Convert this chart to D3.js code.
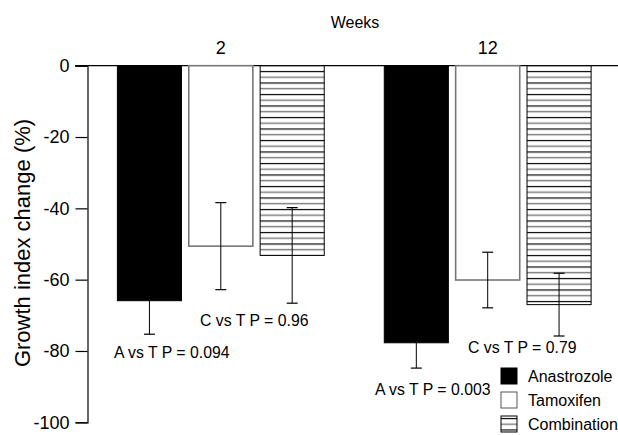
<!DOCTYPE html>
<html>
<head>
<meta charset="utf-8">
<script src="https://cdn.jsdelivr.net/npm/d3@7"></script>
<style>
  body { margin: 0; background: #fff; }
  text { font-family: "Liberation Sans", Arial, sans-serif; fill: #000; }
</style>
</head>
<body>
<div id="chart"></div>
<script>
var weeks = ["2", "12"];
var series = ["Anastrozole", "Tamoxifen", "Combination"];
var means = {
  "2":  [-65.9, -50.6, -53.2],
  "12": [-77.7, -60.1, -67.0]
};
var errors = {
  "2":  [9.4, 12.2, 13.4],
  "12": [7.1, 7.8, 8.8]
};
var pLabels = [
  { week: "2", text: "A vs T P = 0.094" },
  { week: "2", text: "C vs T P = 0.96" },
  { week: "12", text: "A vs T P = 0.003" },
  { week: "12", text: "C vs T P = 0.79" }
];
var yTicks = [0, -20, -40, -60, -80, -100];

var width = 618, height = 435;

var svg = d3.select("#chart").append("svg")
  .attr("width", width)
  .attr("height", height);

// hatch for combination bars
var pat = svg.append("defs").append("pattern")
  .attr("id", "hatch")
  .attr("patternUnits", "userSpaceOnUse")
  .attr("width", 10).attr("height", 11.5);
pat.append("rect").attr("width", 10).attr("height", 11.5).attr("fill", "#fff");
pat.append("line").attr("x1", 0).attr("x2", 10).attr("y1", 2.5).attr("y2", 2.5)
  .attr("stroke", "#000").attr("stroke-width", 1.2);
pat.append("line").attr("x1", 0).attr("x2", 10).attr("y1", 8.2).attr("y2", 8.2)
  .attr("stroke", "#777").attr("stroke-width", 1.4);

var y = d3.scaleLinear().domain([0, -100]).range([65.7, 422.3]);

var x0 = d3.scaleBand().domain(weeks)
  .range([87.5, 621]).paddingInner(0.225).paddingOuter(0.112);
var x1 = d3.scaleBand().domain(series)
  .range([0, x0.bandwidth()]).paddingInner(0.102).paddingOuter(0);

var fills = { "Anastrozole": "#000", "Tamoxifen": "#fff", "Combination": "url(#hatch)" };
var strokes = { "Anastrozole": "#000", "Tamoxifen": "#777", "Combination": "#000" };

// zero line across the top
svg.append("line")
  .attr("x1", 75).attr("x2", width)
  .attr("y1", y(0)).attr("y2", y(0))
  .attr("stroke", "#000").attr("stroke-width", 1.2);

var groups = svg.selectAll("g.week").data(weeks).enter().append("g")
  .attr("class", "week")
  .attr("transform", function (w) { return "translate(" + x0(w) + ",0)"; });

// error bars
groups.each(function (w) {
  var g = d3.select(this);
  series.forEach(function (s, i) {
    var cx = x1(s) + x1.bandwidth() / 2;
    var lo = means[w][i] - errors[w][i], hi = means[w][i] + errors[w][i];
    g.append("line").attr("x1", cx).attr("x2", cx)
      .attr("y1", y(hi)).attr("y2", y(lo))
      .attr("stroke", "#000").attr("stroke-width", 1);
    [lo, hi].forEach(function (v) {
      g.append("line").attr("x1", cx - 5.5).attr("x2", cx + 5.5)
        .attr("y1", y(v)).attr("y2", y(v))
        .attr("stroke", "#000").attr("stroke-width", 1.2);
    });
  });
});

// bars, put behind the error bars
groups.each(function (w) {
  var g = d3.select(this);
  series.forEach(function (s, i) {
    g.insert("rect", ":first-child")
      .attr("x", x1(s))
      .attr("y", y(0))
      .attr("width", x1.bandwidth())
      .attr("height", y(means[w][i]) - y(0))
      .attr("fill", fills[s])
      .attr("stroke", strokes[s])
      .attr("stroke-width", s === "Tamoxifen" ? 1.6 : 1);
  });
});

// week labels
svg.selectAll("text.wk").data(weeks).enter().append("text")
  .attr("class", "wk")
  .attr("x", function (w) { return x0(w) + x0.bandwidth() / 2; })
  .attr("y", 54)
  .attr("text-anchor", "middle")
  .style("font-size", "18px")
  .text(function (w) { return w; });

svg.append("text")
  .attr("x", 355).attr("y", 28)
  .attr("text-anchor", "middle")
  .style("font-size", "16px")
  .text("Weeks");

// y axis
var yAxis = d3.axisLeft(y).tickValues(yTicks).tickSize(12).tickPadding(6)
  .tickFormat(function (d) { return String(d); });
var ga = svg.append("g")
  .attr("transform", "translate(87.5,0)")
  .call(yAxis);
ga.select(".domain").attr("stroke", "#000").attr("stroke-width", 1.2);
ga.selectAll(".tick line").attr("stroke", "#000").attr("stroke-width", 1.2);
ga.selectAll(".tick text")
  .style("font-family", "'Liberation Sans', Arial, sans-serif")
  .style("font-size", "18px")
  .attr("fill", "#000");

svg.append("text")
  .attr("transform", "translate(30,243) rotate(-90)")
  .attr("text-anchor", "middle")
  .style("font-size", "22px")
  .text("Growth index change (%)");

// p-value annotations
var pPos = [
  { dx: 114, y: 358 },
  { dx: 200, y: 326 },
  { dx: 375, y: 395 },
  { dx: 468, y: 353 }
];
svg.selectAll("text.p").data(pLabels).enter().append("text")
  .attr("class", "p")
  .attr("x", function (d, i) { return pPos[i].dx; })
  .attr("y", function (d, i) { return pPos[i].y; })
  .style("font-size", "15.8px")
  .text(function (d) { return d.text; });

// legend
var legend = svg.selectAll("g.leg").data(series).enter().append("g")
  .attr("class", "leg")
  .attr("transform", function (d, i) { return "translate(501," + (368 + i * 24) + ")"; });
legend.append("rect")
  .attr("width", 16).attr("height", 16)
  .attr("fill", function (d) { return fills[d]; })
  .attr("stroke", function (d) { return d === "Tamoxifen" ? "#555" : "#000"; })
  .attr("stroke-width", 1);
legend.append("text")
  .attr("x", 27).attr("y", 14)
  .style("font-size", "16px")
  .text(function (d) { return d; });
</script>
</body>
</html>
